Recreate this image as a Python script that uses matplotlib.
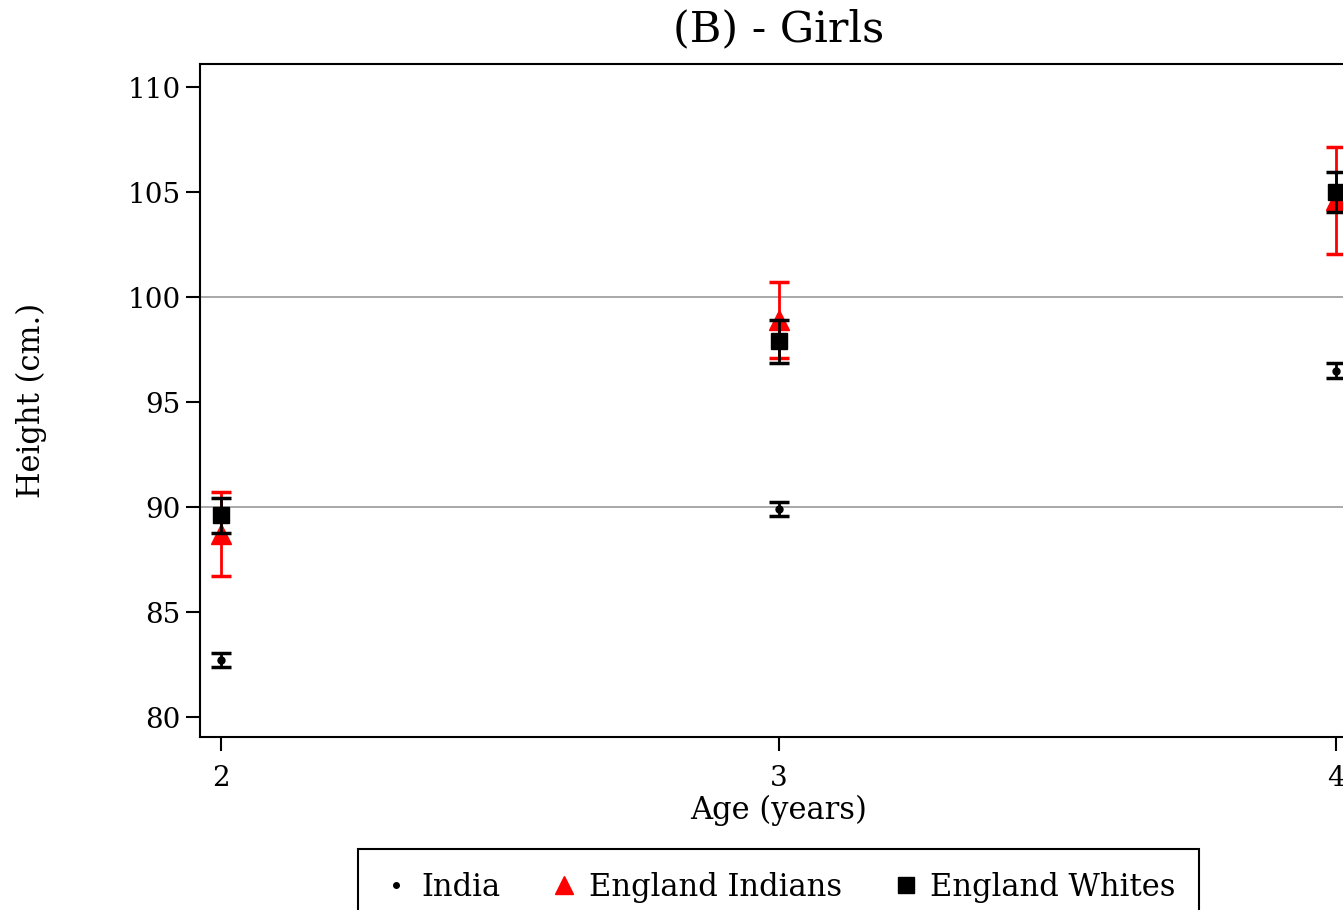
import numpy as np
import matplotlib
matplotlib.use("Agg")
import matplotlib.pyplot as plt
from matplotlib.lines import Line2D

plt.rcParams['font.family'] = ['DejaVu Serif']

ages = [2, 3, 4]

india_mean = [82.7, 89.9, 96.5]
india_err = [0.33, 0.34, 0.34]

eng_ind_mean = [88.7, 98.9, 104.6]
eng_ind_err = [2.0, 1.82, 2.55]

eng_wh_mean = [89.6, 97.9, 105.0]
eng_wh_err = [0.85, 1.03, 0.97]

yticks = [80, 85, 90, 95, 100, 105, 110]

fig = plt.figure(figsize=(13.43, 9.10), dpi=100)
ax = fig.add_axes([200 / 1343, 1 - 737 / 910, 1157 / 1343, 673 / 910])

for v in (90, 100):
    ax.axhline(v, color='#999999', lw=1.2, zorder=0)

ax.errorbar(ages, india_mean, yerr=india_err, fmt='o', color='black',
            markersize=5, elinewidth=2, capsize=7, capthick=2.5, zorder=3)
ax.errorbar(ages, eng_ind_mean, yerr=eng_ind_err, fmt='^', color='red',
            markersize=14, elinewidth=2, capsize=7, capthick=2.5, zorder=4)
ax.errorbar(ages, eng_wh_mean, yerr=eng_wh_err, fmt='s', color='black',
            markersize=12, elinewidth=2, capsize=7, capthick=2.5, zorder=5)

ax.set_xlim(1.962, 4.038)
ax.set_ylim(79.05, 111.1)
ax.set_xticks(ages)
ax.set_yticks(yticks)
ax.tick_params(axis='both', labelsize=20, length=10, width=1.5, direction='out')
ax.tick_params(axis='x', pad=10)
ax.tick_params(axis='y', pad=4)
for s in ax.spines.values():
    s.set_linewidth(1.5)

ax.set_title('(B) - Girls', fontsize=31, pad=16)
ax.set_xlabel('Age (years)', fontsize=22, labelpad=2)
ax.set_ylabel('Height (cm.)', fontsize=22, labelpad=58)

handles = [
    Line2D([], [], marker='o', color='black', ls='none', markersize=4),
    Line2D([], [], marker='^', color='red', ls='none', markersize=13),
    Line2D([], [], marker='s', color='black', ls='none', markersize=12),
]
leg = fig.legend(handles, ['India', 'England Indians', 'England Whites'],
                 loc='upper center', bbox_to_anchor=(778.5 / 1343, 1 - 849 / 910),
                 ncol=3, fontsize=22, frameon=True, fancybox=False,
                 edgecolor='black', framealpha=1, handletextpad=0.3,
                 columnspacing=1.6, borderpad=0.75, handlelength=1.0,
                 borderaxespad=0)
leg.get_frame().set_linewidth(1.5)

fig.savefig('out.png', dpi=100)
